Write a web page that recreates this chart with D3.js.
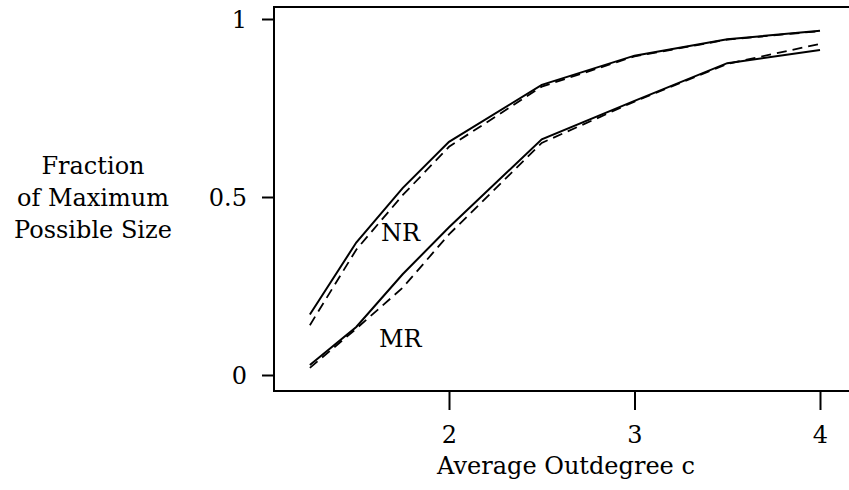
<!DOCTYPE html>
<html>
<head>
<meta charset="utf-8">
<script src="https://cdn.jsdelivr.net/npm/d3@7"></script>
<style>
  body { margin: 0; background: #fff; }
  svg text { font-family: "DejaVu Serif", serif; fill: #000; }
</style>
</head>
<body>
<svg width="849" height="490"></svg>
<script>
// average outdegree values
var degrees = [1.25, 1.5, 1.75, 2, 2.5, 3, 3.5, 4];
// NR curves (solid = measured, dashed = predicted)
var nrSolid  = [0.17, 0.372, 0.525, 0.655, 0.815, 0.897, 0.943, 0.967];
var nrDashed = [0.14, 0.352, 0.505, 0.641, 0.81, 0.895, 0.942, 0.966];
// MR curves
var mrSolid  = [0.028, 0.135, 0.283, 0.415, 0.662, 0.77, 0.876, 0.913];
var mrDashed = [0.02, 0.13, 0.245, 0.395, 0.652, 0.768, 0.874, 0.93];
var xTicks = [2, 3, 4];
var yTicks = [0, 0.5, 1];

var svg = d3.select("svg"),
    width = +svg.attr("width"),
    height = +svg.attr("height");

var x = d3.scaleLinear().domain([2, 4]).range([449, 820]);
var y = d3.scaleLinear().domain([0, 1]).range([375, 19]);

var frameLeft = 274, frameTop = 7, frameBottom = 391;

// frame (left, top, bottom)
svg.append("path")
    .attr("d", "M" + width + "," + frameTop + "H" + frameLeft + "V" + frameBottom + "H" + width)
    .attr("fill", "none")
    .attr("stroke", "#000")
    .attr("stroke-width", 2);

var yAxis = svg.append("g")
    .attr("transform", "translate(" + frameLeft + ",0)")
    .call(d3.axisLeft(y).tickValues(yTicks).tickSize(12).tickSizeOuter(0)
        .tickFormat(function(d) { return d === 0.5 ? "0.5" : d3.format("d")(d); }));
yAxis.select(".domain").remove();
yAxis.selectAll(".tick line").attr("stroke-width", 2);
yAxis.selectAll(".tick text")
    .attr("x", -27)
    .attr("dy", "0.36em")
    .attr("font-size", 24)
    .attr("font-family", "DejaVu Serif");

var xAxis = svg.append("g")
    .attr("transform", "translate(0," + frameBottom + ")")
    .call(d3.axisBottom(x).tickValues(xTicks).tickSize(19).tickSizeOuter(0)
        .tickFormat(d3.format("d")));
xAxis.select(".domain").remove();
xAxis.selectAll(".tick line").attr("stroke-width", 2);
xAxis.selectAll(".tick text")
    .attr("y", 52)
    .attr("dy", 0)
    .attr("font-size", 24)
    .attr("font-family", "DejaVu Serif");

// axis titles
svg.append("text")
    .attr("x", 566)
    .attr("y", 474)
    .attr("text-anchor", "middle")
    .attr("font-size", 24)
    .text("Average Outdegree c");

var yLabel = ["Fraction", "of Maximum", "Possible Size"];
svg.append("g").selectAll("text")
    .data(yLabel)
    .enter().append("text")
    .attr("x", 93)
    .attr("y", function(d, i) { return 174 + i * 32; })
    .attr("text-anchor", "middle")
    .attr("font-size", 24)
    .text(function(d) { return d; });

var line = d3.line()
    .x(function(d, i) { return x(degrees[i]); })
    .y(function(d) { return y(d); });

var series = [
    { values: nrSolid, dash: null },
    { values: nrDashed, dash: "10,6" },
    { values: mrSolid, dash: null },
    { values: mrDashed, dash: "10,6" }
];

svg.append("g")
    .attr("fill", "none")
    .attr("stroke", "#000")
    .selectAll("path")
    .data(series)
    .enter().append("path")
    .attr("d", function(d) { return line(d.values); })
    .attr("stroke-width", function(d) { return d.dash ? 1.8 : 2; })
    .attr("stroke-dasharray", function(d) { return d.dash; });

// curve labels
svg.append("text").attr("x", 381).attr("y", 241).attr("font-size", 24).text("NR");
svg.append("text").attr("x", 379).attr("y", 347).attr("font-size", 24).text("MR");
</script>
</body>
</html>
